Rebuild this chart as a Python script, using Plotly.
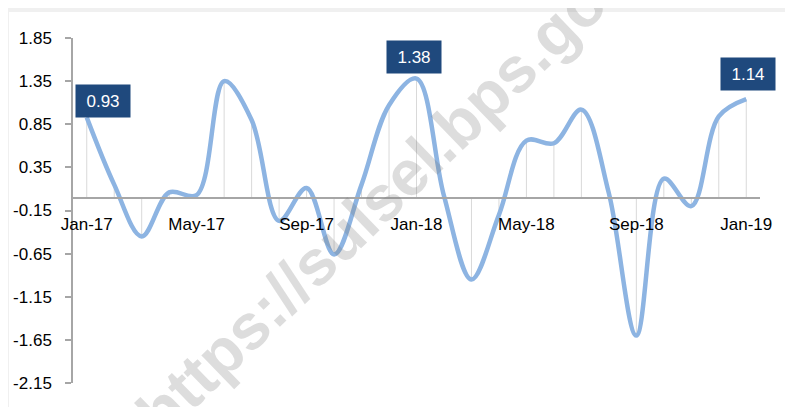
import plotly.graph_objects as go

months = ["Jan-17", "Feb-17", "Mar-17", "Apr-17", "May-17", "Jun-17", "Jul-17", "Aug-17",
          "Sep-17", "Oct-17", "Nov-17", "Dec-17", "Jan-18", "Feb-18", "Mar-18", "Apr-18",
          "May-18", "Jun-18", "Jul-18", "Aug-18", "Sep-18", "Oct-18", "Nov-18", "Dec-18", "Jan-19"]
values = [0.93, 0.15, -0.45, 0.06, 0.03, 1.35, 0.90, -0.27, 0.11, -0.66, 0.15, 1.07,
          1.38, 0.02, -0.95, -0.20, 0.66, 0.63, 1.02, 0.05, -1.60, 0.22, -0.10, 0.94, 1.14]
tick_labels = ["Jan-17", "May-17", "Sep-17", "Jan-18", "May-18", "Sep-18", "Jan-19"]
y_ticks = [-2.15, -1.65, -1.15, -0.65, -0.15, 0.35, 0.85, 1.35, 1.85]
labelled = {"Jan-17": (16, 16), "Jan-18": (-3, 22), "Jan-19": (2, 25)}

FONT = "Liberation Sans"
OFF = 8  # page body margin

fig = go.Figure()

# drop lines
dx, dy = [], []
for m, v in zip(months, values):
    dx += [m, m, None]
    dy += [0, v, None]
fig.add_trace(go.Scatter(x=dx, y=dy, mode="lines", line=dict(color="#d9d9d9", width=1),
                         hoverinfo="skip", showlegend=False))

fig.add_trace(go.Scatter(x=months, y=values, mode="lines",
                         line=dict(color="#8db4e2", width=4.5, shape="spline", smoothing=1),
                         showlegend=False))

for m, v in zip(months, values):
    if m in labelled:
        xs, ys = labelled[m]
        fig.add_annotation(x=m, y=v, text=f"{v:.2f}", showarrow=False, xshift=xs, yshift=ys,
                           bgcolor="#1f497d", width=50, height=28, borderpad=2,
                           font=dict(family=FONT, size=17, color="white"))

# watermark
fig.add_annotation(xref="paper", yref="paper", x=(398 - 73) / 687, y=(383 - 182) / 345,
                   text="<b>https://sulsel.bps.go.id</b>", showarrow=False, textangle=-44,
                   font=dict(family=FONT, size=64, color="rgba(120,120,120,0.25)"))

# outer frame
fig.add_shape(type="rect", xref="paper", yref="paper",
              x0=(7 - 73) / 687, x1=(820 - 73) / 687, y0=(383 - 430) / 345, y1=(383 - 10) / 345,
              line=dict(color="#f0f0f0", width=4), layer="below")

fig.update_layout(
    width=793 - OFF, height=407 - OFF,
    margin=dict(l=73 - OFF, r=33, t=38 - OFF, b=24, autoexpand=False),
    paper_bgcolor="white", plot_bgcolor="white",
    xaxis=dict(type="category", categoryorder="array", categoryarray=months,
               range=[-0.5, len(months) - 0.5], tickvals=tick_labels, ticktext=tick_labels,
               anchor="free", position=2.15 / 4.0, showline=True, linecolor="#a6a6a6",
               linewidth=1.5, ticks="", showgrid=False, zeroline=False, automargin=False,
               tickfont=dict(family=FONT, size=17, color="black"), ticklabelstandoff=11),
    yaxis=dict(range=[-2.15, 1.85], tickvals=y_ticks, ticktext=[f"{t:.2f}" for t in y_ticks],
               showline=True, linecolor="#a6a6a6", linewidth=1.5, ticks="outside", ticklen=6,
               tickcolor="#a6a6a6", tickwidth=1.5, showgrid=False, zeroline=False,
               automargin=False,
               tickfont=dict(family=FONT, size=17, color="black"), ticklabelstandoff=10),
)

fig.write_html("out.html")
